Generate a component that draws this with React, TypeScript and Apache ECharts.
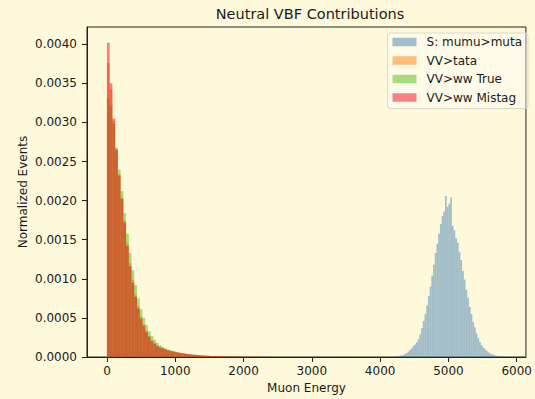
import React, { useEffect, useRef } from "react";
import * as echarts from "echarts";

// ---- data ----
const xTicks = [0, 1000, 2000, 3000, 4000, 5000, 6000];
const yTicks = [0, 0.0005, 0.001, 0.0015, 0.002, 0.0025, 0.003, 0.0035, 0.004];

// background histograms: bins of 40 starting at 0
const bgBinStart = 0;
const bgBinWidth = 40;
// signal histogram: bins of 25 starting at 4200
const sigBinStart = 4200;
const sigBinWidth = 25;

const seriesNames = ["S: mumu>muta", "VV>tata", "VV>ww True", "VV>ww Mistag"];

const signalValues = [
  0.000005, 0.000008, 0.000012, 0.000015, 0.00002, 0.000025, 0.000035, 0.00005, 0.00007, 0.00009,
  0.00011, 0.00014, 0.00016, 0.00019, 0.00023, 0.00029, 0.00037, 0.00046, 0.00055, 0.00066,
  0.00078, 0.0009, 0.00104, 0.00118, 0.00133, 0.00145, 0.00158, 0.0017, 0.0018, 0.00186,
  0.00206, 0.00192, 0.00196, 0.00204, 0.00168, 0.00162, 0.00152, 0.00146, 0.00134, 0.00124,
  0.0011, 0.00099, 0.00086, 0.00076, 0.00064, 0.00055, 0.00045, 0.00038, 0.0003, 0.00024,
  0.00019, 0.00015, 0.00012, 0.0001, 0.00008, 0.00006, 0.000045, 0.000035, 0.000028, 0.00002,
  0.000016, 0.000012, 0.000008, 0.000006, 0.000004, 0.000002,
];

const tataValues = [
  0.00376, 0.00342, 0.00302, 0.00266, 0.00234, 0.00204, 0.00175, 0.00146, 0.0012, 0.00099,
  0.0008, 0.00065, 0.00052, 0.00042, 0.00034, 0.00027, 0.00022, 0.00018, 0.00015, 0.00013,
  0.000115, 0.0001, 0.000088, 0.000078, 0.00007, 0.000062, 0.000055, 0.000049, 0.000044, 0.000039,
  0.000035, 0.000031, 0.000027, 0.000024, 0.000021, 0.000019, 0.000017, 0.000015, 0.000013, 0.000012,
  0.000011, 0.00001, 0.000009, 0.000008, 0.000007, 0.000006, 0.000006, 0.000005, 0.000004, 0.000004,
  0.000003, 0.000003, 0.000003, 0.000002, 0.000002, 0.000002, 0.000001, 0.000001, 0.000001, 0.000001,
];

const wwTrueValues = [
  0.0033, 0.00322, 0.00298, 0.00268, 0.0024, 0.00212, 0.00184, 0.00158, 0.00133, 0.00111,
  0.00092, 0.00075, 0.00061, 0.0005, 0.00041, 0.00033, 0.00027, 0.00022, 0.00018, 0.00015,
  0.000128, 0.00011, 0.000096, 0.000084, 0.000074, 0.000065, 0.000057, 0.00005, 0.000044, 0.000039,
  0.000034, 0.00003, 0.000026, 0.000023, 0.00002, 0.000018, 0.000016, 0.000014, 0.000012, 0.000011,
  0.00001, 0.000009, 0.000008, 0.000007, 0.000006, 0.000005, 0.000005, 0.000004, 0.000004, 0.000003,
  0.000003, 0.000003, 0.000002, 0.000002, 0.000002, 0.000001, 0.000001, 0.000001, 0.000001, 0.000001,
];

const wwMistagValues = [
  0.00402, 0.0035, 0.00305, 0.00265, 0.00232, 0.00202, 0.00172, 0.00142, 0.00116, 0.00095,
  0.00077, 0.00062, 0.00049, 0.0004, 0.00032, 0.00026, 0.0002, 0.00017, 0.00014, 0.00012,
  0.00011, 0.000095, 0.000085, 0.000076, 0.000068, 0.00006, 0.000054, 0.000048, 0.000043, 0.000038,
  0.000034, 0.00003, 0.000027, 0.000024, 0.000021, 0.000019, 0.000017, 0.000015, 0.000013, 0.000012,
  0.000011, 0.00001, 0.000009, 0.000008, 0.000007, 0.000006, 0.000006, 0.000005, 0.000005, 0.000004,
  0.000004, 0.000003, 0.000003, 0.000003, 0.000002, 0.000002, 0.000002, 0.000001, 0.000001, 0.000001,
];

const colors = [
  "rgba(70,130,180,0.5)",
  "rgba(255,127,14,0.5)",
  "rgba(80,190,20,0.5)",
  "rgba(240,10,30,0.5)",
];

const BG = "#fff9dc";
const FONT = "DejaVu Sans";
const TEXT = "#1a1a1a";

function toBins(values: number[], start: number, width: number) {
  return values.map((v, i) => [start + i * width, start + (i + 1) * width, v]);
}

function histSeries(name: string, data: number[][], color: string) {
  return {
    type: "custom",
    name,
    data,
    encode: { x: [0, 1], y: 2 },
    itemStyle: { color },
    clip: true,
    renderItem: (params: any, api: any) => {
      const p0 = api.coord([api.value(0), api.value(2)]);
      const p1 = api.coord([api.value(1), 0]);
      return {
        type: "rect",
        shape: { x: p0[0], y: p0[1], width: p1[0] - p0[0], height: p1[1] - p0[1] },
        style: { fill: color },
      };
    },
  };
}

export default function App() {
  const ref = useRef<HTMLDivElement>(null);
  useEffect(() => {
    if (!ref.current) return;
    const chart = echarts.init(ref.current, null, { renderer: "svg" });
    const axisLabel = { color: TEXT, fontSize: 12, fontFamily: FONT };
    chart.setOption({
      animation: false,
      backgroundColor: BG,
      title: {
        text: "Neutral VBF Contributions",
        left: 310,
        top: 6,
        textAlign: "center",
        padding: 0,
        textStyle: { color: TEXT, fontSize: 14.5, fontWeight: "normal", fontFamily: FONT },
      },
      legend: {
        orient: "vertical",
        right: 7,
        top: 33,
        padding: [2, 6, 4, 5],
        itemGap: 4.5,
        itemWidth: 24,
        itemHeight: 8.5,
        icon: "rect",
        backgroundColor: "rgba(255,255,250,0.4)",
        borderColor: "#dcd8c6",
        borderWidth: 1,
        borderRadius: 3,
        data: seriesNames,
        textStyle: { color: TEXT, fontSize: 12, fontFamily: FONT, lineHeight: 14, padding: [0, 0, 0, 5] },
      },
      grid: {
        left: 87,
        right: 3,
        top: 27,
        bottom: 41,
        show: true,
        borderColor: "#222",
        borderWidth: 1,
        backgroundColor: "transparent",
      },
      xAxis: {
        type: "value",
        min: -292,
        max: 6135,
        name: "Muon Energy",
        nameLocation: "middle",
        nameGap: 25,
        nameTextStyle: { color: TEXT, fontSize: 12, fontFamily: FONT },
        axisLine: { show: true, onZero: false, lineStyle: { color: "#222" } },
        axisTick: { show: true, length: 5, customValues: xTicks, lineStyle: { color: "#222" } },
        axisLabel: { ...axisLabel, margin: 8, customValues: xTicks, formatter: (v: number) => String(v) },
        splitLine: { show: false },
      },
      yAxis: {
        type: "value",
        min: 0,
        max: 0.00422,
        name: "Normalized Events",
        nameLocation: "middle",
        nameGap: 58,
        nameMoveOverlap: false,
        nameRotate: 90,
        nameTextStyle: { color: TEXT, fontSize: 12, fontFamily: FONT },
        axisLine: { show: true, onZero: false, lineStyle: { color: "#222" } },
        axisTick: { show: true, length: 5, customValues: yTicks, lineStyle: { color: "#222" } },
        axisLabel: { ...axisLabel, margin: 10, customValues: yTicks, formatter: (v: number) => v.toFixed(4) },
        splitLine: { show: false },
      },
      series: [
        histSeries(seriesNames[0], toBins(signalValues, sigBinStart, sigBinWidth), colors[0]),
        histSeries(seriesNames[1], toBins(tataValues, bgBinStart, bgBinWidth), colors[1]),
        histSeries(seriesNames[2], toBins(wwTrueValues, bgBinStart, bgBinWidth), colors[2]),
        histSeries(seriesNames[3], toBins(wwMistagValues, bgBinStart, bgBinWidth), colors[3]),
      ],
    });
    return () => chart.dispose();
  }, []);
  return (
    <div
      ref={ref}
      style={{ position: "fixed", left: 0, top: 0, width: 535, height: 399, background: BG }}
    />
  );
}
